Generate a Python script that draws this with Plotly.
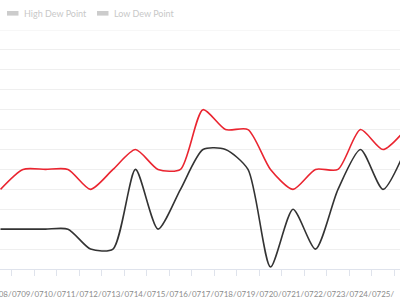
import plotly.graph_objects as go

dates = ["0708", "0709", "0710", "0711", "0712", "0713", "0714", "0715", "0716", "0717",
         "0718", "0719", "0720", "0721", "0722", "0723", "0724", "0725", "0726"]
high_dew = [4, 5, 5, 5, 4, 5, 6, 5, 5, 8, 7, 7, 5, 4, 5, 5, 7, 6, 7]
low_dew = [2, 2, 2, 2, 1, 1, 5, 2, 4, 6, 6, 5, 0.1, 3, 1, 4, 6, 4, 6]
tick_labels = [d + "/" for d in dates]
series_names = ["High Dew Point", "Low Dew Point"]

W, H = 400, 300
TOP, BOTTOM = 30, 269
axis_color = "#dfe3ec"
grid_color = "#efefef"

fig = go.Figure()
fig.add_trace(go.Scatter(x=dates, y=high_dew, mode="lines", name=series_names[0], cliponaxis=False,
                         line=dict(color="#ea2530", width=1.6, shape="spline", smoothing=0.7)))
fig.add_trace(go.Scatter(x=dates, y=low_dew, mode="lines", name=series_names[1], cliponaxis=False,
                         line=dict(color="#333333", width=1.6, shape="spline", smoothing=0.7)))

step = 22.5
x0 = -0.5 / step
x1 = (W - 0.5) / step

fig.update_layout(
    width=W, height=H,
    margin=dict(l=0, r=0, t=TOP, b=H - BOTTOM, autoexpand=False),
    paper_bgcolor="white", plot_bgcolor="white",
    showlegend=False,
    font=dict(family="Lato", color="#888888"),
    xaxis=dict(
        type="category", range=[x0, x1], showgrid=False, zeroline=False, automargin=False,
        showline=True, linecolor=axis_color, linewidth=1,
        tickmode="array", tickvals=dates, ticktext=tick_labels, tickangle=0,
        tickson="boundaries", ticks="outside", ticklen=6, tickcolor=axis_color, tickwidth=1,
        ticklabelstandoff=17,
        tickfont=dict(family="Lato", size=8, color="#8c8c8c"),
    ),
    yaxis=dict(
        range=[0, 12], dtick=1, tick0=0, showgrid=True, gridcolor=grid_color, gridwidth=1,
        zeroline=False, showticklabels=False, showline=False, ticks="", automargin=False,
    ),
)

# top grid line
fig.add_shape(type="line", xref="paper", yref="y", x0=0, x1=1, y0=12, y1=12,
              line=dict(color=grid_color, width=1))

# legend (inactive style, grey)
def py(p):
    return (BOTTOM - p) / (BOTTOM - TOP)

legend_items = [(7, 22, series_names[0]), (97, 112, series_names[1])]
for ix, tx, name in legend_items:
    fig.add_shape(type="rect", xref="paper", yref="paper",
                  x0=ix / W, x1=(ix + 11.5) / W, y0=py(15.6), y1=py(11),
                  line=dict(width=0), fillcolor="#cccccc")
    fig.add_annotation(xref="paper", yref="paper", x=tx / W, y=py(13.3), text=name,
                       showarrow=False, xanchor="left", yanchor="middle",
                       font=dict(family="Lato", size=9, color="#c8c8c8"))

fig.write_html("out.html")
